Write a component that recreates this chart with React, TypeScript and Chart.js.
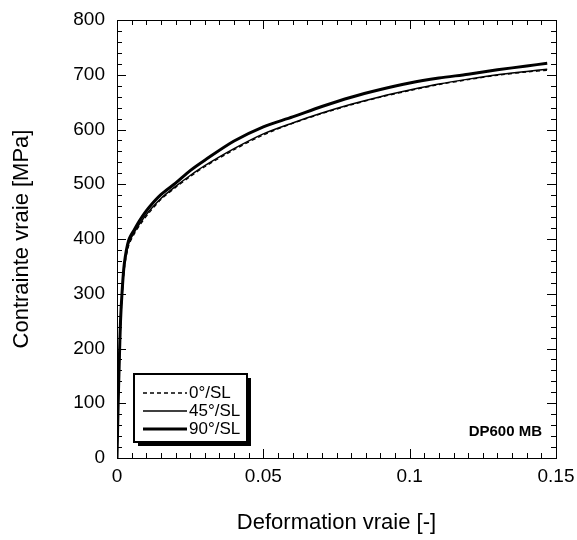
import React, { useEffect, useRef } from "react";
import { Chart, registerables } from "chart.js";

Chart.register(...registerables);

// strain values (shared by all three series)
const strain = [0, 0.0004, 0.0008, 0.0012, 0.0017, 0.0025, 0.004, 0.006, 0.008, 0.011, 0.015, 0.02, 0.025, 0.03, 0.04, 0.05, 0.06, 0.07, 0.08, 0.09, 0.1, 0.11, 0.12, 0.13, 0.14, 0.147];
// stress values in MPa
const stress0 = [0, 90, 170, 238, 290, 345, 388, 410, 427, 448, 472, 494, 514, 532, 563, 590, 611, 629, 645, 659, 671, 682, 691, 699, 705, 708];
const stress45 = [0, 97, 176, 245, 296, 350, 392, 413, 430, 451, 474, 496, 516, 534, 565, 592, 612, 630, 646, 660, 672, 683, 692, 700, 706, 710];
const stress90 = [0, 100, 180, 250, 300, 355, 398, 418, 436, 458, 481, 502, 525, 544, 579, 605, 623, 642, 659, 673, 685, 694, 701, 709, 716, 721];

const seriesLabels = ["0°/SL", "45°/SL", "90°/SL"];
const xTickLabels = ["0", "0.05", "0.1", "0.15"];
const yTickLabels = ["0", "100", "200", "300", "400", "500", "600", "700", "800"];

const FONT = "'Liberation Sans', Arial, Helvetica, sans-serif";

const framePlugin = {
  id: "frame",
  afterDatasetsDraw(chart: any) {
    const { ctx, chartArea } = chart;
    const { left, right, top, bottom } = chartArea;
    const xs = chart.scales.x;
    const ys = chart.scales.y;
    ctx.save();
    ctx.strokeStyle = "#000";
    ctx.lineWidth = 1;
    ctx.strokeRect(left + 0.5, top + 0.5, right - left, bottom - top);
    ctx.beginPath();
    for (let i = 0; i <= 30; i++) {
      const v = i * 0.005;
      const px = Math.round(xs.getPixelForValue(v)) + 0.5;
      const len = i % 10 === 0 ? 9 : 5;
      ctx.moveTo(px, bottom);
      ctx.lineTo(px, bottom - len);
      ctx.moveTo(px, top);
      ctx.lineTo(px, top + len);
    }
    for (let i = 0; i <= 40; i++) {
      const v = i * 20;
      const py = Math.round(ys.getPixelForValue(v)) + 0.5;
      const len = i % 5 === 0 ? 9 : 5;
      ctx.moveTo(left, py);
      ctx.lineTo(left + len, py);
      ctx.moveTo(right, py);
      ctx.lineTo(right - len, py);
    }
    ctx.stroke();

    // annotation
    ctx.fillStyle = "#000";
    ctx.font = `bold 15px ${FONT}`;
    ctx.textAlign = "right";
    ctx.textBaseline = "middle";
    ctx.fillText("DP600 MB", right - 14, bottom - 26);

    // legend
    const bx = left + 17;
    const by = bottom - 84;
    const bw = 113;
    const bh = 68;
    ctx.fillStyle = "#000";
    ctx.fillRect(bx + 4, by + 4, bw, bh);
    ctx.fillStyle = "#fff";
    ctx.fillRect(bx, by, bw, bh);
    ctx.lineWidth = 2;
    ctx.strokeStyle = "#000";
    ctx.strokeRect(bx, by, bw, bh);
    const dsets = chart.data.datasets;
    ctx.font = `17px ${FONT}`;
    ctx.textAlign = "left";
    for (let i = 0; i < dsets.length; i++) {
      const ds = dsets[i];
      const yy = by + 19 + i * 18;
      ctx.beginPath();
      ctx.lineWidth = ds.borderWidth;
      ctx.setLineDash(ds.borderDash || []);
      ctx.moveTo(bx + 9, yy);
      ctx.lineTo(bx + 53, yy);
      ctx.stroke();
      ctx.setLineDash([]);
      ctx.fillStyle = "#000";
      ctx.fillText(ds.label, bx + 55, yy);
    }
    ctx.restore();
  },
};

export default function App() {
  const ref = useRef<HTMLCanvasElement | null>(null);
  useEffect(() => {
    if (!ref.current) return;
    const mk = (ys: number[]) => strain.map((x, i) => ({ x, y: ys[i] }));
    const chart = new Chart(ref.current, {
      type: "scatter",
      data: {
        datasets: [
          { label: seriesLabels[0], data: mk(stress0), showLine: true, borderColor: "#000", borderWidth: 1.3, borderDash: [4, 3], pointRadius: 0, tension: 0.3 } as any,
          { label: seriesLabels[1], data: mk(stress45), showLine: true, borderColor: "#000", borderWidth: 1.5, pointRadius: 0, tension: 0.3 } as any,
          { label: seriesLabels[2], data: mk(stress90), showLine: true, borderColor: "#000", borderWidth: 3, pointRadius: 0, tension: 0.3 } as any,
        ],
      },
      options: {
        animation: false,
        responsive: false,
        maintainAspectRatio: false,
        layout: { padding: { top: 20, right: 21, left: 0, bottom: 0 } },
        plugins: { legend: { display: false }, tooltip: { enabled: false } },
        scales: {
          x: {
            type: "linear",
            min: 0,
            max: 0.15,
            afterFit: (s: any) => { s.height = 82; s.paddingLeft = 0; s.paddingRight = 0; },
            ticks: {
              stepSize: 0.05,
              color: "#000",
              padding: 7,
              maxRotation: 0,
              font: { family: FONT, size: 19 },
              callback: (_v: any, i: number) => xTickLabels[i],
            },
            grid: { display: false, drawTicks: false },
            border: { display: false },
            title: { display: true, text: "Deformation vraie [-]", color: "#000", font: { family: FONT, size: 22 }, padding: { top: 0, bottom: 4 } },
          },
          y: {
            type: "linear",
            min: 0,
            max: 800,
            afterFit: (s: any) => { s.width = 117; s.paddingTop = 0; s.paddingBottom = 0; },
            ticks: {
              stepSize: 100,
              color: "#000",
              padding: 12,
              font: { family: FONT, size: 19 },
              callback: (_v: any, i: number) => yTickLabels[i],
            },
            grid: { display: false, drawTicks: false },
            border: { display: false },
            title: { display: true, text: "Contrainte vraie [MPa]", color: "#000", font: { family: FONT, size: 22 }, padding: { top: 9, bottom: 0 } },
          },
        },
      },
      plugins: [framePlugin],
    });
    return () => chart.destroy();
  }, []);
  return (
    <div style={{ position: "fixed", left: 0, top: 0, width: 577, height: 540, background: "#fff" }}>
      <canvas ref={ref} width={577} height={540} style={{ width: 577, height: 540 }} />
    </div>
  );
}
